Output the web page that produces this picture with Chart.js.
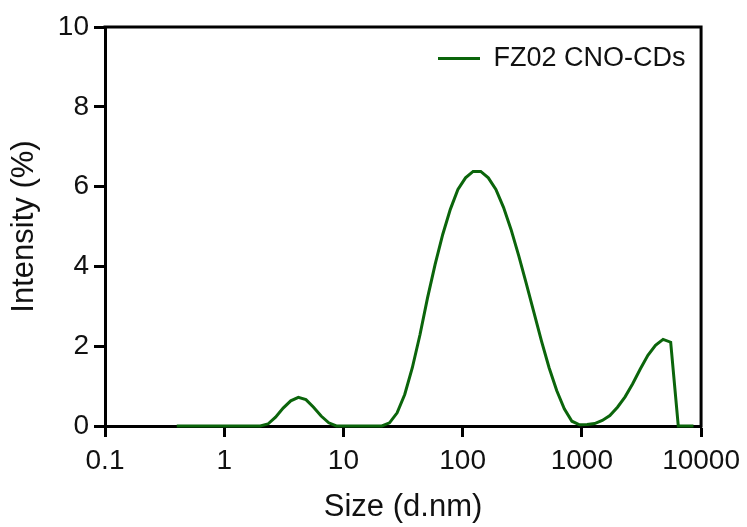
<!DOCTYPE html>
<html>
<head>
<meta charset="utf-8">
<title>DLS size distribution</title>
<script src="https://cdn.jsdelivr.net/npm/chart.js@4.4.1/dist/chart.umd.min.js"></script>
<style>
  html, body { margin: 0; padding: 0; background: #fff; }
  #wrap { width: 747px; height: 527px; }
</style>
</head>
<body>
<div id="wrap"><canvas id="dls"></canvas></div>
<script>
// Size bins (d.nm) and measured intensity (%)
const sizes = [
    0.4, 0.4632, 0.5365, 0.6213, 0.7195, 0.8332, 0.9649, 1.117, 1.294, 1.499,
    1.736, 2.010, 2.328, 2.696, 3.122, 3.615, 4.187, 4.849, 5.615, 6.503,
    7.531, 8.721, 10.10, 11.70, 13.54, 15.69, 18.17, 21.04, 24.36, 28.21,
    32.67, 37.84, 43.82, 50.75, 58.77, 68.06, 78.82, 91.28, 105.7, 122.4,
    141.8, 164.2, 190.1, 220.2, 255.0, 295.3, 342.0, 396.1, 458.7, 531.2,
    615.1, 712.4, 825.0, 955.4, 1106, 1281, 1484, 1718, 1990, 2305,
    2669, 3091, 3580, 4145, 4801, 5560, 6439, 7456, 8635
];
const intensity = [
    0, 0, 0, 0, 0, 0, 0, 0, 0, 0,
    0, 0, 0.05, 0.22, 0.45, 0.63, 0.72, 0.66, 0.47, 0.25,
    0.08, 0, 0, 0, 0, 0, 0, 0, 0.08, 0.33,
    0.79, 1.46, 2.28, 3.21, 4.05, 4.80, 5.43, 5.93, 6.22, 6.38,
    6.38, 6.22, 5.93, 5.48, 4.92, 4.27, 3.57, 2.85, 2.13, 1.46,
    0.89, 0.43, 0.12, 0.03, 0.04, 0.06, 0.14, 0.26, 0.47, 0.73,
    1.06, 1.43, 1.77, 2.02, 2.17, 2.10, 0, 0, 0
];
const seriesLabel = 'FZ02 CNO-CDs';
const xTicks = [0.1, 1, 10, 100, 1000, 10000];
const yTicks = [0, 2, 4, 6, 8, 10];

const green = '#0b650b';
const legendX = 438;   // where the legend line sample starts

Chart.defaults.font.family = '"Liberation Sans", Arial, sans-serif';
Chart.defaults.color = '#000';

// Closes the box (top and right edges) and moves the legend to the top right corner
const frame = {
    id: 'frame',
    beforeDraw(chart) {
        const lg = chart.legend;
        if (!lg) return;
        lg.left = legendX - lg.options.labels.padding;
        lg.top = chart.chartArea.top;
        lg.bottom = chart.chartArea.bottom;
    },
    beforeDatasetsDraw(chart) {
        const { ctx, chartArea: a } = chart;
        ctx.save();
        ctx.strokeStyle = '#000';
        ctx.lineWidth = 3;
        ctx.lineCap = 'square';
        ctx.beginPath();
        ctx.moveTo(a.left, a.top);
        ctx.lineTo(a.right, a.top);
        ctx.lineTo(a.right, a.bottom);
        ctx.stroke();
        ctx.restore();
    }
};

new Chart(document.getElementById('dls'), {
    type: 'line',
    data: {
        datasets: [{
            label: seriesLabel,
            data: sizes.map((s, i) => ({ x: s, y: intensity[i] })),
            borderColor: green,
            backgroundColor: green,
            borderWidth: 3,
            pointRadius: 0,
            tension: 0,
            clip: 6
        }]
    },
    options: {
        responsive: true,
        maintainAspectRatio: false,
        animation: false,
        layout: { padding: { top: 27, right: 44, left: 0, bottom: 0 } },
        plugins: {
            tooltip: { enabled: false },
            legend: {
                position: 'chartArea',
                align: 'start',
                labels: {
                    usePointStyle: true,
                    pointStyle: 'line',
                    pointStyleWidth: 42,
                    padding: 18,
                    color: '#111',
                    font: { size: 27 }
                }
            }
        },
        scales: {
            x: {
                type: 'logarithmic',
                min: 0.1,
                max: 10000,
                afterBuildTicks: s => { s.ticks = xTicks.map(v => ({ value: v })); },
                afterFit: s => { s.height = 101; },
                ticks: {
                    autoSkip: false,
                    maxRotation: 0,
                    padding: 7,
                    color: '#111',
                    font: { size: 28 },
                    callback: v => String(v)
                },
                grid: { drawOnChartArea: false, drawTicks: true, tickLength: 11, tickWidth: 3, tickColor: '#000' },
                border: { display: true, color: '#000', width: 3 },
                title: { display: true, text: 'Size (d.nm)', color: '#111', font: { size: 31 }, padding: { top: 0, bottom: 1 } }
            },
            y: {
                min: 0,
                max: 10,
                afterBuildTicks: s => { s.ticks = yTicks.map(v => ({ value: v })); },
                afterFit: s => { s.width = 105; },
                ticks: { padding: 5, color: '#111', font: { size: 28 } },
                grid: { drawOnChartArea: false, drawTicks: true, tickLength: 11, tickWidth: 3, tickColor: '#000' },
                border: { display: true, color: '#000', width: 3 },
                title: { display: true, text: 'Intensity (%)', color: '#111', font: { size: 31 }, padding: { top: 6, bottom: 0 } }
            }
        }
    },
    plugins: [frame]
});
</script>
</body>
</html>
